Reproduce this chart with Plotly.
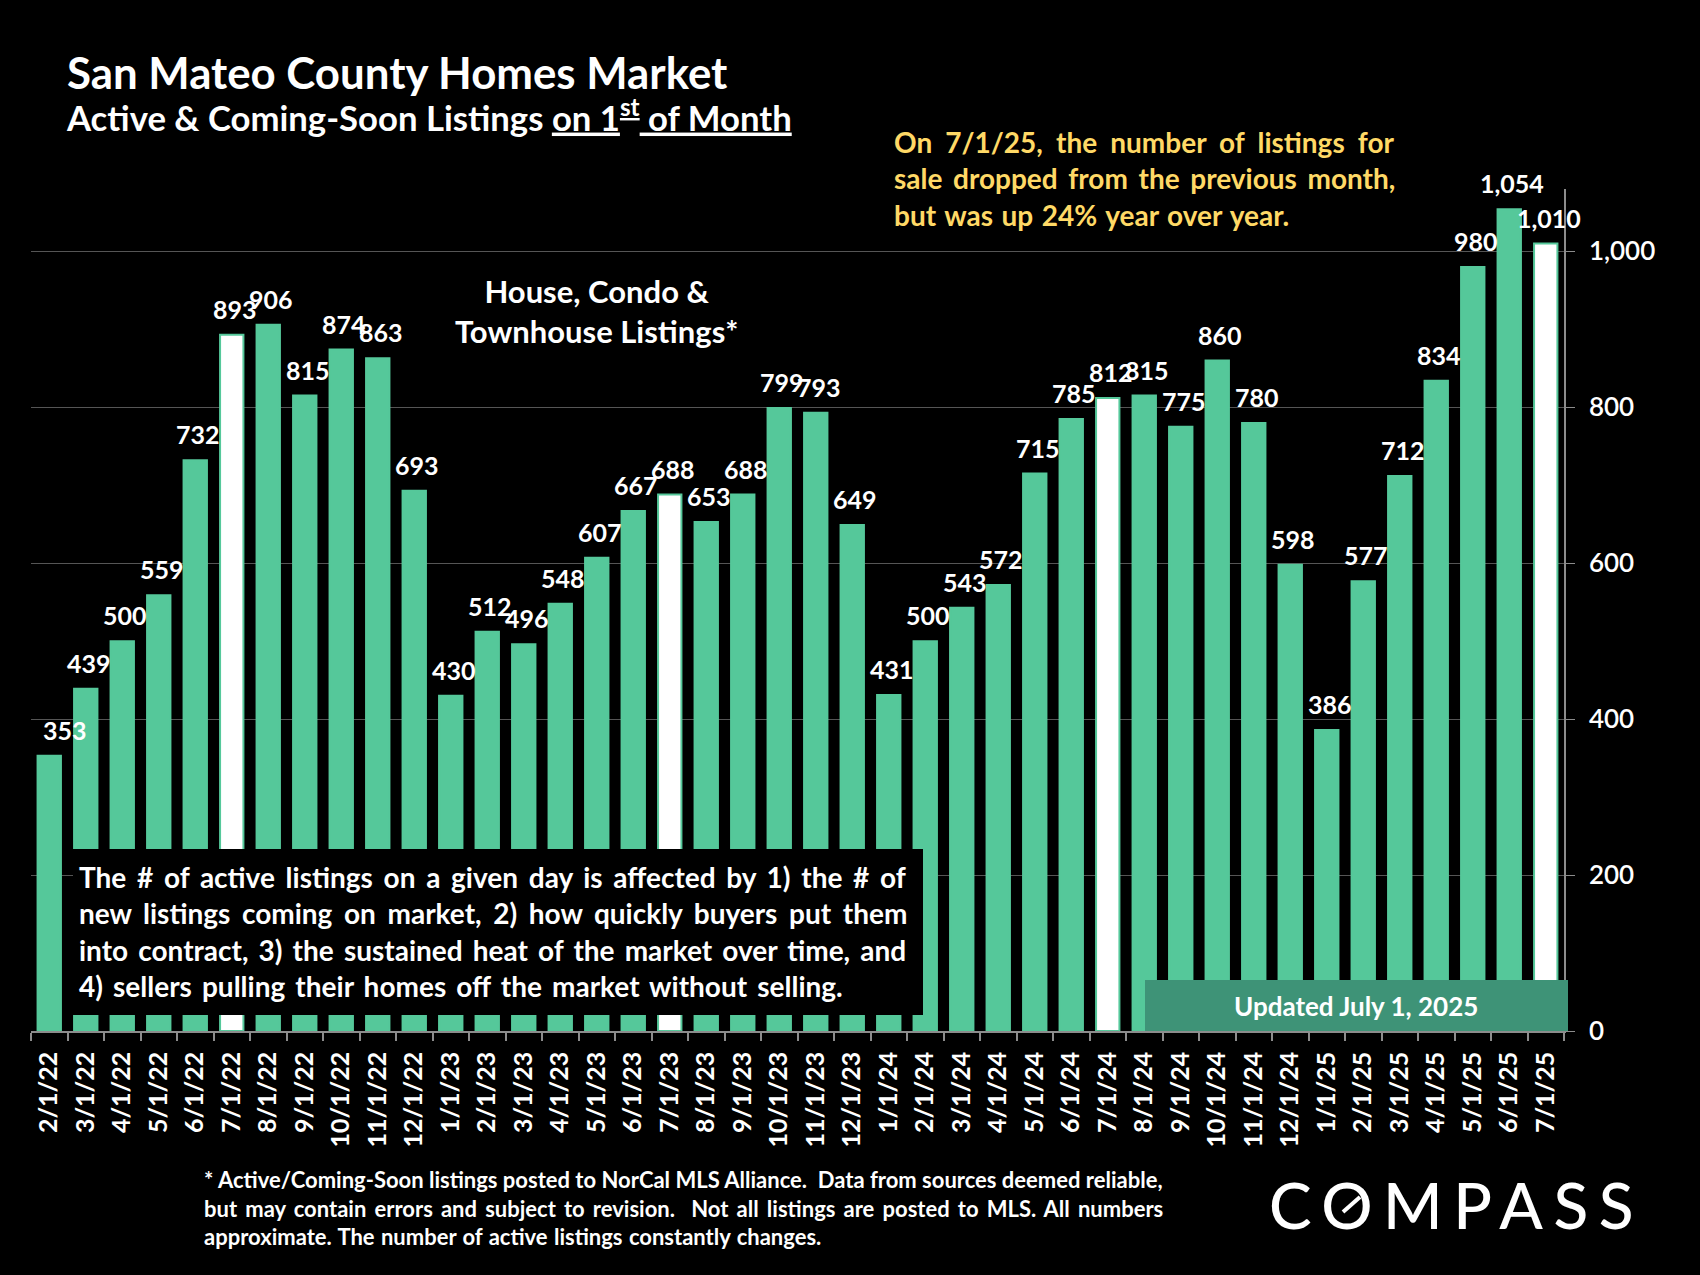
import plotly.graph_objects as go

months = ['2/1/22', '3/1/22', '4/1/22', '5/1/22', '6/1/22', '7/1/22', '8/1/22', '9/1/22', '10/1/22', '11/1/22',
          '12/1/22', '1/1/23', '2/1/23', '3/1/23', '4/1/23', '5/1/23', '6/1/23', '7/1/23', '8/1/23', '9/1/23',
          '10/1/23', '11/1/23', '12/1/23', '1/1/24', '2/1/24', '3/1/24', '4/1/24', '5/1/24', '6/1/24', '7/1/24',
          '8/1/24', '9/1/24', '10/1/24', '11/1/24', '12/1/24', '1/1/25', '2/1/25', '3/1/25', '4/1/25', '5/1/25',
          '6/1/25', '7/1/25']
listings = [353, 439, 500, 559, 732, 893, 906, 815, 874, 863, 693, 430, 512, 496, 548, 607, 667, 688, 653, 688,
            799, 793, 649, 431, 500, 543, 572, 715, 785, 812, 815, 775, 860, 780, 598, 386, 577, 712, 834, 980,
            1054, 1010]
y_ticks = [0, 200, 400, 600, 800, 1000]

FONT = 'Lato'
W, H = 1700, 1275
LEFT, RIGHT, TOP, BOTTOM = 31, 1564, 189, 1031
GREEN = '#55C89A'
GREY = '#8C8C8C'


# paper coords are relative to the plot area, so convert from picture pixels
def px(x):
    return (x - LEFT) / (RIGHT - LEFT)


def py(y):
    return (BOTTOM - y) / (BOTTOM - TOP)


def words(text, gap):
    return f'<span style="word-spacing:{gap}px">{text}</span>'


colors = ['white' if m.startswith('7/') else GREEN for m in months]

fig = go.Figure()
fig.add_trace(go.Bar(x=months, y=listings, width=0.64,
                     marker=dict(color=colors, line=dict(color=GREEN, width=2))))

# value labels sit slightly right of each bar centre, the first one further
for m, v in zip(months, listings):
    fig.add_annotation(x=m, y=v, text=f'{v:,}', showarrow=False, yanchor='bottom',
                       xshift=16 if m == '2/1/22' else 3, yshift=9,
                       font=dict(family=FONT, size=25, color='white', weight=700))


def note(x, y, text, size, color='white', anchor='left', align='left', weight=700):
    fig.add_annotation(xref='paper', yref='paper', x=px(x), y=py(y), text=text, showarrow=False,
                       xanchor=anchor, yanchor='middle', align=align,
                       font=dict(family=FONT, size=size, color=color, weight=weight))


note(65, 72, 'San Mateo County Homes Market', 43.8)
note(64, 115, 'Active &amp; Coming-Soon Listings <u>on 1<sup>st</sup> of Month</u>', 34.7)
note(596, 311, 'House, Condo &amp;<br>Townhouse Listings*', 31, anchor='center', align='center')
note(892, 178, '<br>'.join([words('On 7/1/25, the number of listings for', 6.3),
                            words('sale dropped from the previous month,', 3.8),
                            words('but was up 24% year over year.', 1.8)]), 28, color='#FFD966')

# black panel over the bars
fig.add_shape(type='rect', xref='paper', yref='paper', x0=px(73), x1=px(923), y0=py(1015), y1=py(849),
              fillcolor='black', line_width=0, layer='above')
note(77, 931, '<br>'.join([words('The # of active listings on a given day is affected by 1) the # of', 3.9),
                           words('new listings coming on market, 2) how quickly buyers put them', 4.8),
                           words('into contract, 3) the sustained heat of the market over time, and', 3.3),
                           words('4) sellers pulling their homes off the market without selling.', 3.3)]), 28)

fig.add_shape(type='rect', xref='paper', yref='paper', x0=px(1145), x1=px(1568), y0=py(1031), y1=py(980),
              fillcolor='#3E9377', line_width=0, layer='above')
note(1356, 1006, 'Updated July 1, 2025', 26, anchor='center', align='center')

note(202, 1208, '<br>'.join([words('* Active/Coming-Soon listings posted to NorCal MLS Alliance.  Data from sources deemed reliable,', 0),
                             words('but may contain errors and subject to revision.  Not all listings are posted to MLS. All numbers', 2.8),
                             words('approximate. The number of active listings constantly changes.', 1)]), 22)

# logo wordmark
note(1456, 1204, '<span style="letter-spacing:10.5px">COMPASS</span>', 64, anchor='center', align='center', weight=500)
fig.add_shape(type='line', xref='paper', yref='paper', x0=px(1343), x1=px(1360), y0=py(1212), y1=py(1197),
              line=dict(color='white', width=4), layer='above')

fig.update_layout(
    width=W, height=H, autosize=False, showlegend=False, bargap=0.36,
    paper_bgcolor='black', plot_bgcolor='black',
    margin=dict(l=LEFT, r=W - RIGHT, t=TOP, b=H - BOTTOM),
    xaxis=dict(type='category', categoryorder='array', categoryarray=months, range=[-0.5, 41.5],
               tickmode='array', tickvals=months, ticktext=months, tickangle=-90, tickson='boundaries',
               ticks='outside', ticklen=8, tickcolor=GREY, tickwidth=1.5, showline=True, linecolor=GREY, linewidth=1.5,
               showgrid=False, ticklabelstandoff=9, tickfont=dict(family=FONT, size=25, color='white', weight=700)),
    yaxis=dict(side='right', range=[0, 1080], tickmode='array', tickvals=y_ticks, tickformat=',',
               ticks='outside', ticklen=9, tickcolor=GREY, tickwidth=1, showline=True, linecolor=GREY, linewidth=1.5,
               showgrid=True, gridcolor='#555555', gridwidth=1, zeroline=False, ticklabelstandoff=9,
               tickfont=dict(family=FONT, size=26, color='white', weight=600)),
)

fig.write_html("out.html", config={'displayModeBar': False}, post_script="document.body.style.margin='0';")
